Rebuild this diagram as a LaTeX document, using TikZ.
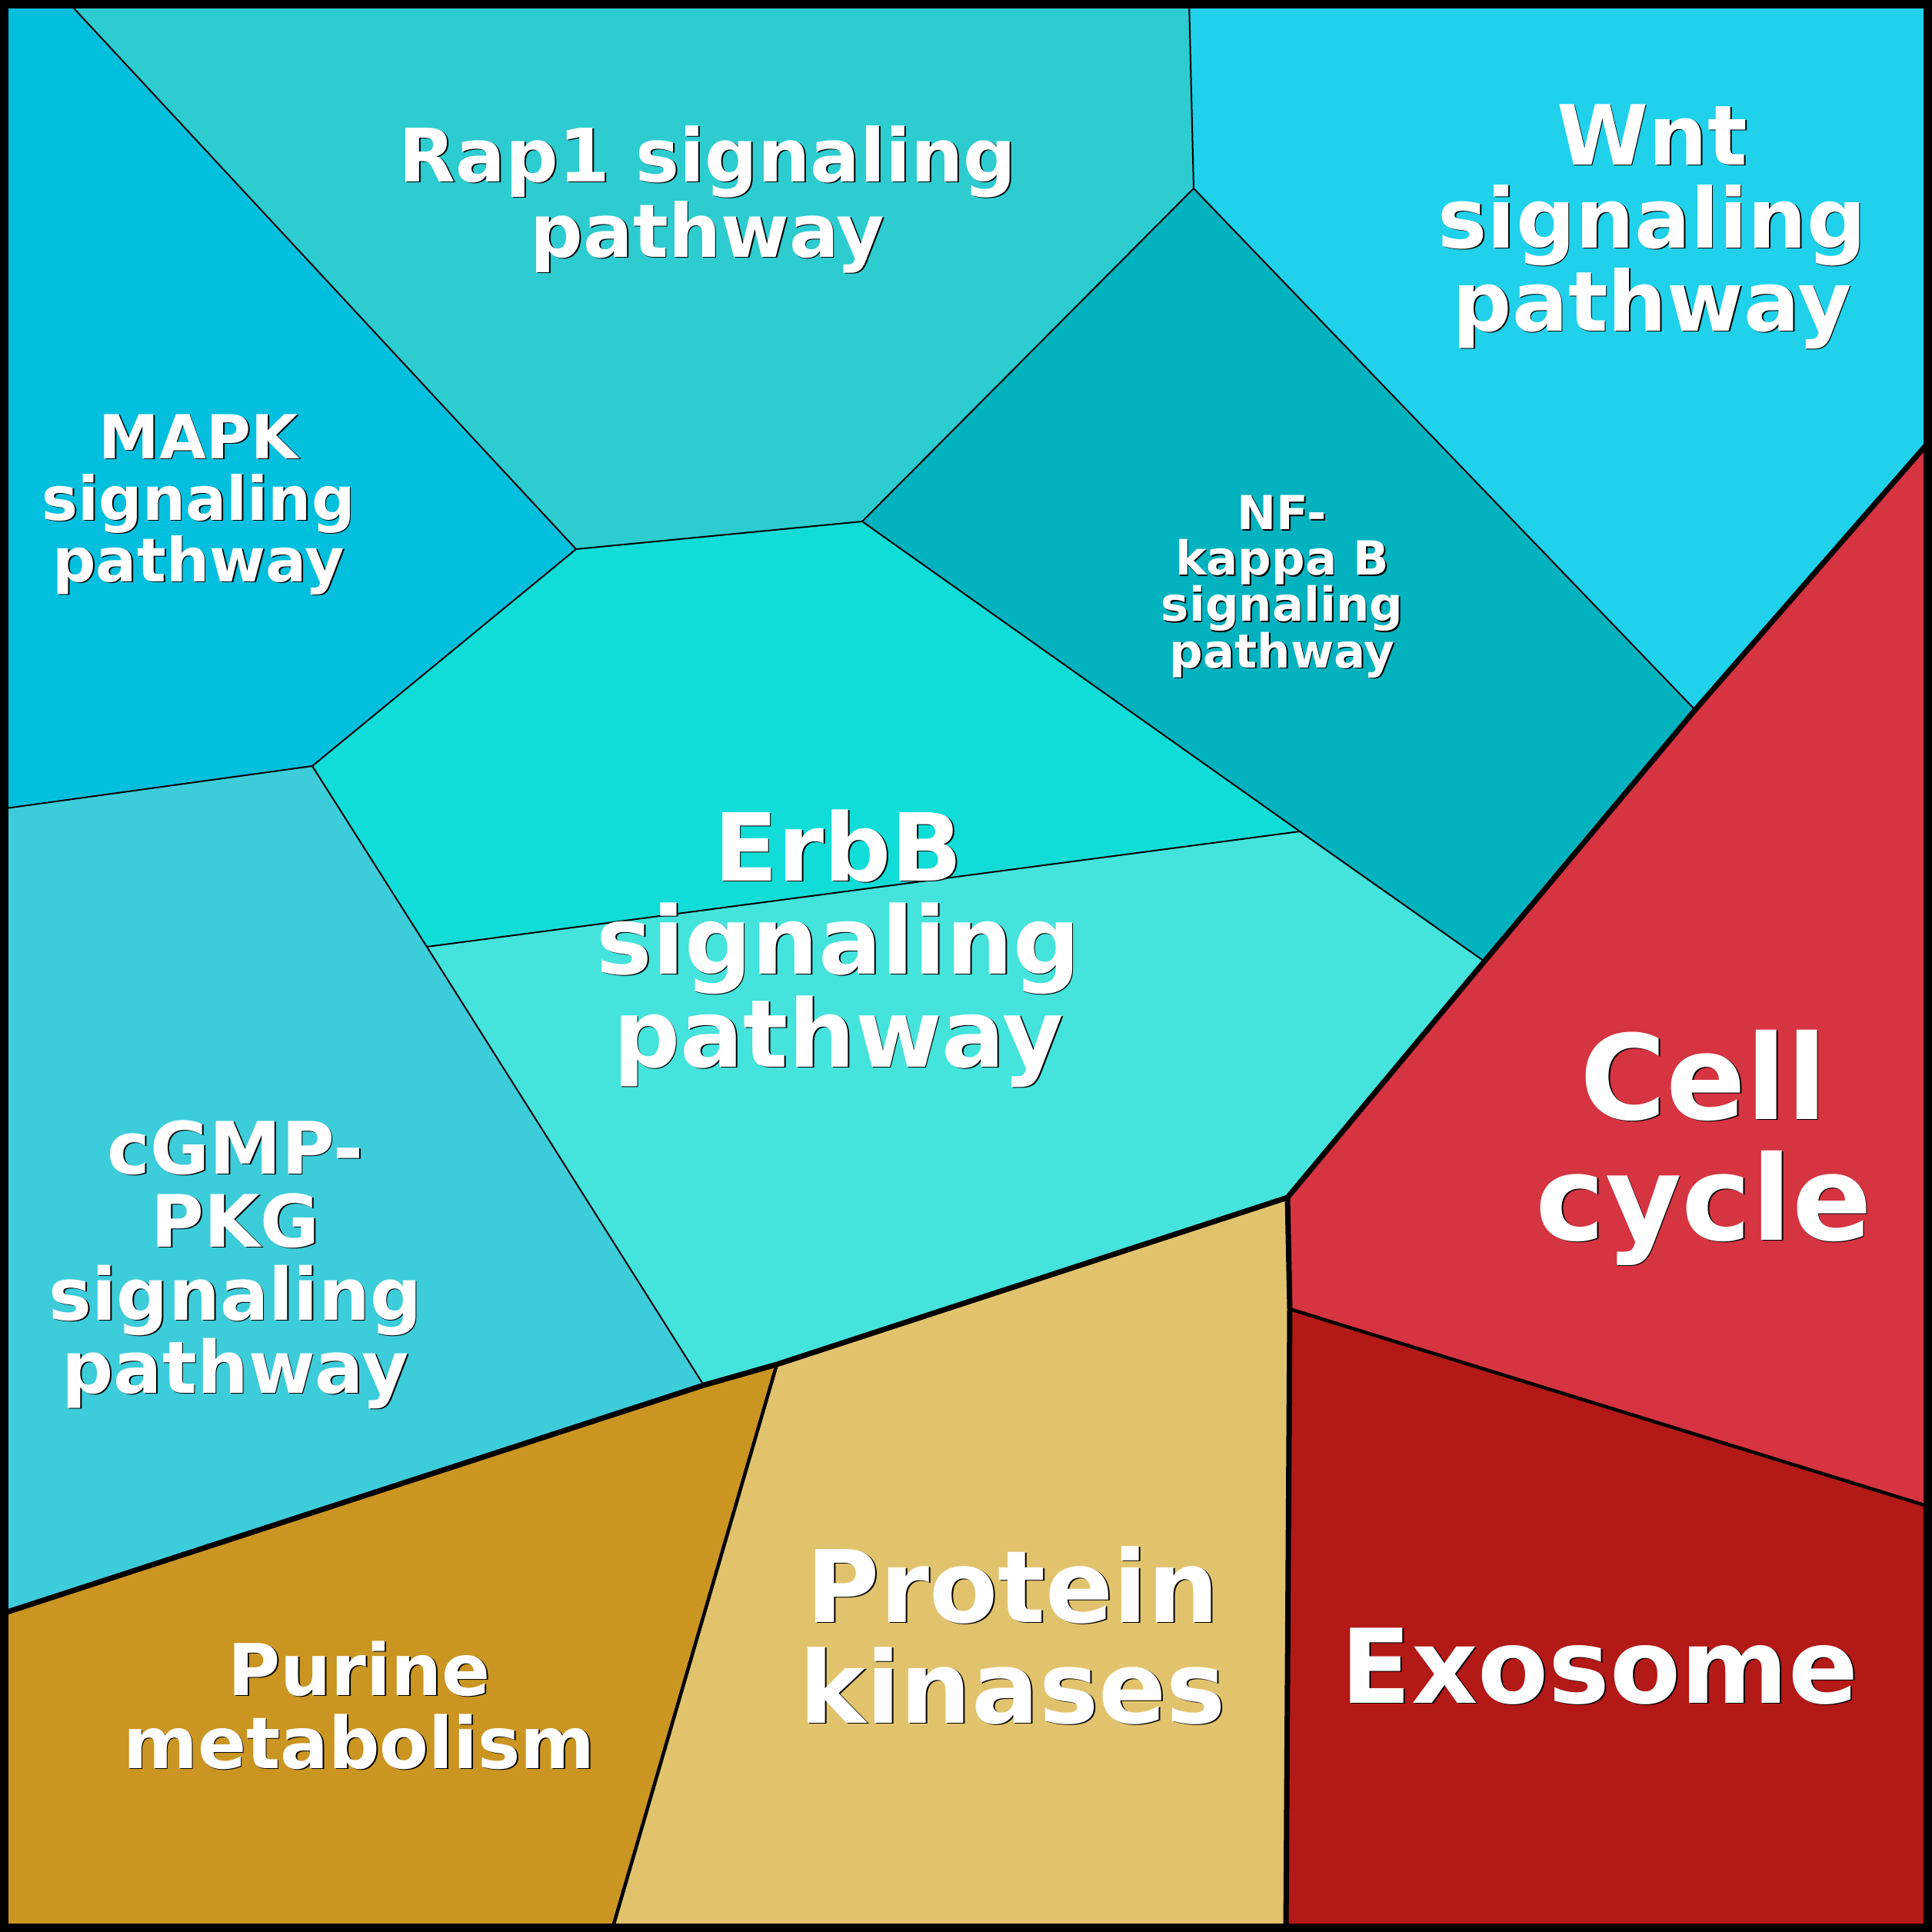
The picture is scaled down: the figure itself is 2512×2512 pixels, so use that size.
\documentclass[tikz,border=0pt]{standalone}
\usepackage{fontspec}
\setmainfont{DejaVu Sans}
\definecolor{cMAPK}{HTML}{02BFDE}
\definecolor{cRap}{HTML}{2DCCD0}
\definecolor{cWnt}{HTML}{1FD1EA}
\definecolor{cNFkB}{HTML}{02B2BF}
\definecolor{cErbA}{HTML}{10DDD7}
\definecolor{cErbB}{HTML}{44E3DC}
\definecolor{cGMP}{HTML}{3DCCDA}
\definecolor{cPur}{HTML}{CB9522}
\definecolor{cProt}{HTML}{E2C36D}
\definecolor{cCell}{HTML}{D53440}
\definecolor{cExo}{HTML}{B31917}
\tikzset{
  thinb/.style={line width=2pt, line join=round},
  medb/.style={line width=4.5pt, line join=round},
  thickb/.style={line width=7pt, line join=round, line cap=round},
  lbl/.style={text=white, align=center, anchor=base, inner sep=0pt, font=\bfseries},
}
% #3 = baseline of the last line
\newcommand\vlabel[6]{%
  \node[lbl, text=black, font=\bfseries\fontsize{#4}{#5}\selectfont] (#1-s) at (#2+1.8,#3+1.8) {#6};
  \node[lbl, font=\bfseries\fontsize{#4}{#5}\selectfont] (#1) at (#2,#3) {#6};
}
\begin{document}
\begin{tikzpicture}[x=1pt,y=-1pt]
\useasboundingbox (0,0) rectangle (2512,2512);
% vertices
\coordinate (TL) at (0,0);
\coordinate (TR) at (2512,0);
\coordinate (BR) at (2512,2512);
\coordinate (BL) at (0,2512);
\coordinate (A) at (86,0);
\coordinate (B) at (749,714);
\coordinate (C) at (1121,678);
\coordinate (D) at (406,996);
\coordinate (E) at (0,1052);
\coordinate (F) at (1546,0);
\coordinate (G) at (1552,245);
\coordinate (H) at (2204,923);
\coordinate (I) at (2512,570);
\coordinate (J) at (1930,1250);
\coordinate (K) at (1690,1081);
\coordinate (L) at (555,1231);
\coordinate (M) at (1674,1557);
\coordinate (N) at (1677,1702);
\coordinate (O) at (2512,1960);
\coordinate (P) at (1672,2512);
\coordinate (Q) at (1010,1774);
\coordinate (R) at (915,1801);
\coordinate (S) at (0,2099);
\coordinate (T) at (795,2512);
% cells
\fill[cMAPK] (TL) -- (A) -- (B) -- (D) -- (E) -- cycle;
\fill[cRap] (A) -- (F) -- (G) -- (C) -- (B) -- cycle;
\fill[cWnt] (F) -- (TR) -- (I) -- (H) -- (G) -- cycle;
\fill[cNFkB] (G) -- (H) -- (J) -- (K) -- (C) -- cycle;
\fill[cErbA] (B) -- (C) -- (K) -- (L) -- (D) -- cycle;
\fill[cErbB] (L) -- (K) -- (J) -- (M) -- (Q) -- (R) -- cycle;
\fill[cGMP] (E) -- (D) -- (L) -- (R) -- (S) -- cycle;
\fill[cPur] (S) -- (R) -- (Q) -- (T) -- (BL) -- cycle;
\fill[cProt] (Q) -- (M) -- (N) -- (P) -- (T) -- cycle;
\fill[cCell] (I) -- (O) -- (N) -- (M) -- (J) -- (H) -- cycle;
\fill[cExo] (N) -- (O) -- (BR) -- (P) -- cycle;
% thin borders
\draw[thinb] (A) -- (B) -- (D) -- (E);
\draw[thinb] (B) -- (C) -- (G) -- (F);
\draw[thinb] (G) -- (H);
\draw[thinb] (C) -- (K) -- (J);
\draw[thinb] (K) -- (L);
\draw[thinb] (D) -- (L) -- (R);
% medium borders
\draw[medb] (Q) -- (T);
\draw[medb] (N) -- (O);
% thick borders
\draw[thickb] (I) -- (H) -- (J) -- (M) -- (Q) -- (R) -- (S);
\draw[thickb] (M) -- (N) -- (P);
% frame
\draw[line width=11pt] (5.5,5.5) rectangle (2506.5,2506.5);
% labels
\vlabel{rap}{920}{334}{96}{98}{Rap1 signaling\\pathway}
\vlabel{mapk}{258}{756}{79}{80}{MAPK\\signaling\\pathway}
\vlabel{wnt}{2148}{430}{108}{108}{Wnt\\signaling\\pathway}
\vlabel{nfkb}{1667}{868}{61}{59}{NF-\\kappa B\\signaling\\pathway}
\vlabel{erbb}{1090}{1387}{122}{121}{ErbB\\signaling\\pathway}
\vlabel{cgmp}{306}{1811}{94}{95}{cGMP-\\PKG\\signaling\\pathway}
\vlabel{pur}{467}{2299}{93}{95}{Purine\\metabolism}
\vlabel{prot}{1317}{2240}{130}{131}{Protein\\kinases}
\vlabel{cell}{2215}{1612}{153}{157}{Cell\\cycle}
\vlabel{exo}{2080}{2214}{134}{134}{Exosome}
\end{tikzpicture}
\end{document}
